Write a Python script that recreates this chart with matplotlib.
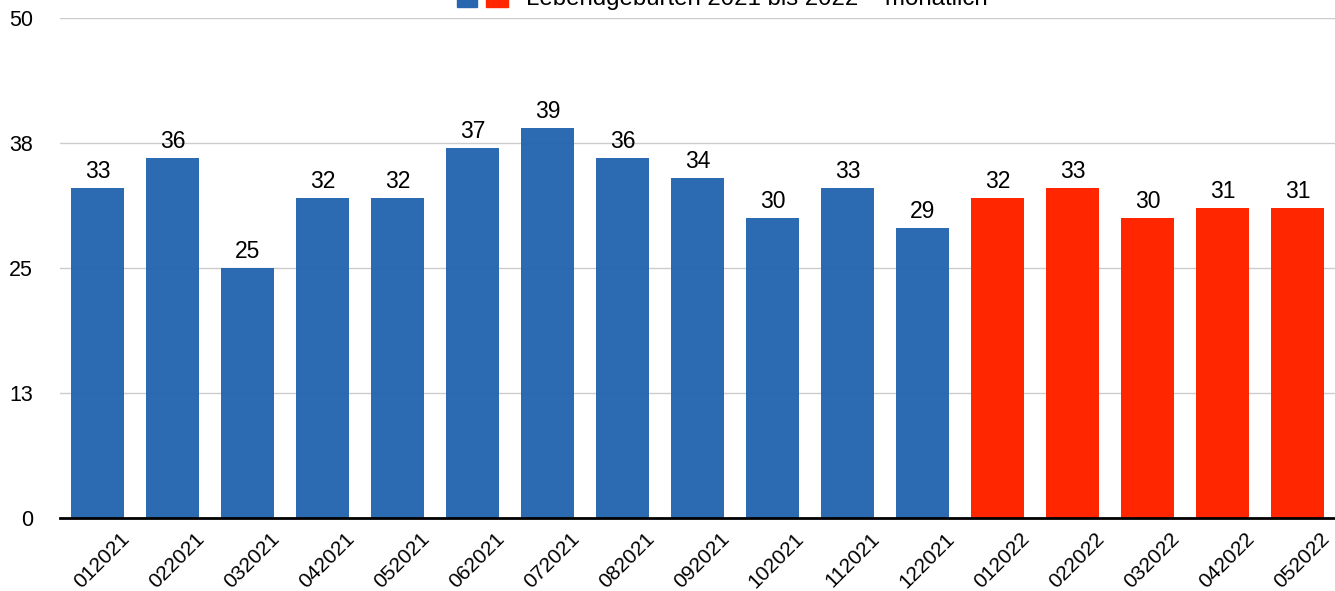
import numpy as np
import matplotlib.pyplot as plt
import matplotlib.transforms as mtransforms
from matplotlib.patches import Rectangle

months = ["012021", "022021", "032021", "042021", "052021", "062021", "072021",
          "082021", "092021", "102021", "112021", "122021",
          "012022", "022022", "032022", "042022", "052022"]
values = [33, 36, 25, 32, 32, 37, 39, 36, 34, 30, 33, 29,
          32, 33, 30, 31, 31]
years = [2021] * 12 + [2022] * 5

blue = "#2767b0"
red = "#ff2600"
colors = [blue if y == 2021 else red for y in years]

plt.rcParams['font.family'] = ['Liberation Sans', 'DejaVu Sans']

fig = plt.figure(figsize=(13.35, 5.91), dpi=100)
ax = fig.add_axes([60 / 1335, 1 - 518 / 591, 1 - 60 / 1335, (518 - 18) / 591])

x = np.arange(len(values))
bars = ax.bar(x, values, width=0.71, color=colors, zorder=2)
for b in bars[:12]:
    b.set_alpha(0.98)

for xi, v in zip(x, values):
    ax.text(xi, v + 0.5, str(v), ha='center', va='bottom', fontsize=16.5)

ax.set_xlim(-0.5, len(values) - 0.5)
ax.set_ylim(0, 50)
ax.set_yticks([0, 12.5, 25, 37.5, 50])
ax.set_yticklabels(["0", "13", "25", "38", "50"], fontsize=15.5)
ax.yaxis.grid(True, color="#cccccc", linewidth=1, zorder=0)
ax.set_axisbelow(True)

ax.set_xticks(x)
ax.set_xticklabels(months, rotation=45, ha='right', rotation_mode='anchor', fontsize=15)
ax.tick_params(axis='x', length=0, pad=8)
ax.tick_params(axis='y', length=0, pad=19.5)
# shift rotated labels to the right like the original
offset = mtransforms.ScaledTranslation(22 / 100, 0, fig.dpi_scale_trans)
for lab in ax.get_xticklabels():
    lab.set_transform(lab.get_transform() + offset)

for s in ['top', 'right', 'left']:
    ax.spines[s].set_visible(False)
ax.spines['bottom'].set_linewidth(2)
ax.spines['bottom'].set_color('black')
ax.spines['bottom'].set_zorder(3)

# legend strip at the top, partly cut off as in the original
fig.patches.append(Rectangle((457 / 1335, 1 - 7 / 591), 20 / 1335, 20 / 591,
                             transform=fig.transFigure, color=blue))
fig.patches.append(Rectangle((486 / 1335, 1 - 7 / 591), 22 / 1335, 20 / 591,
                             transform=fig.transFigure, color=red))
fig.text(526 / 1335, 1 + 1 / 591, "Lebendgeburten 2021 bis 2022 \u2013 monatlich",
         ha='left', va='center', fontsize=17.3)

fig.savefig("out.png", dpi=100)
